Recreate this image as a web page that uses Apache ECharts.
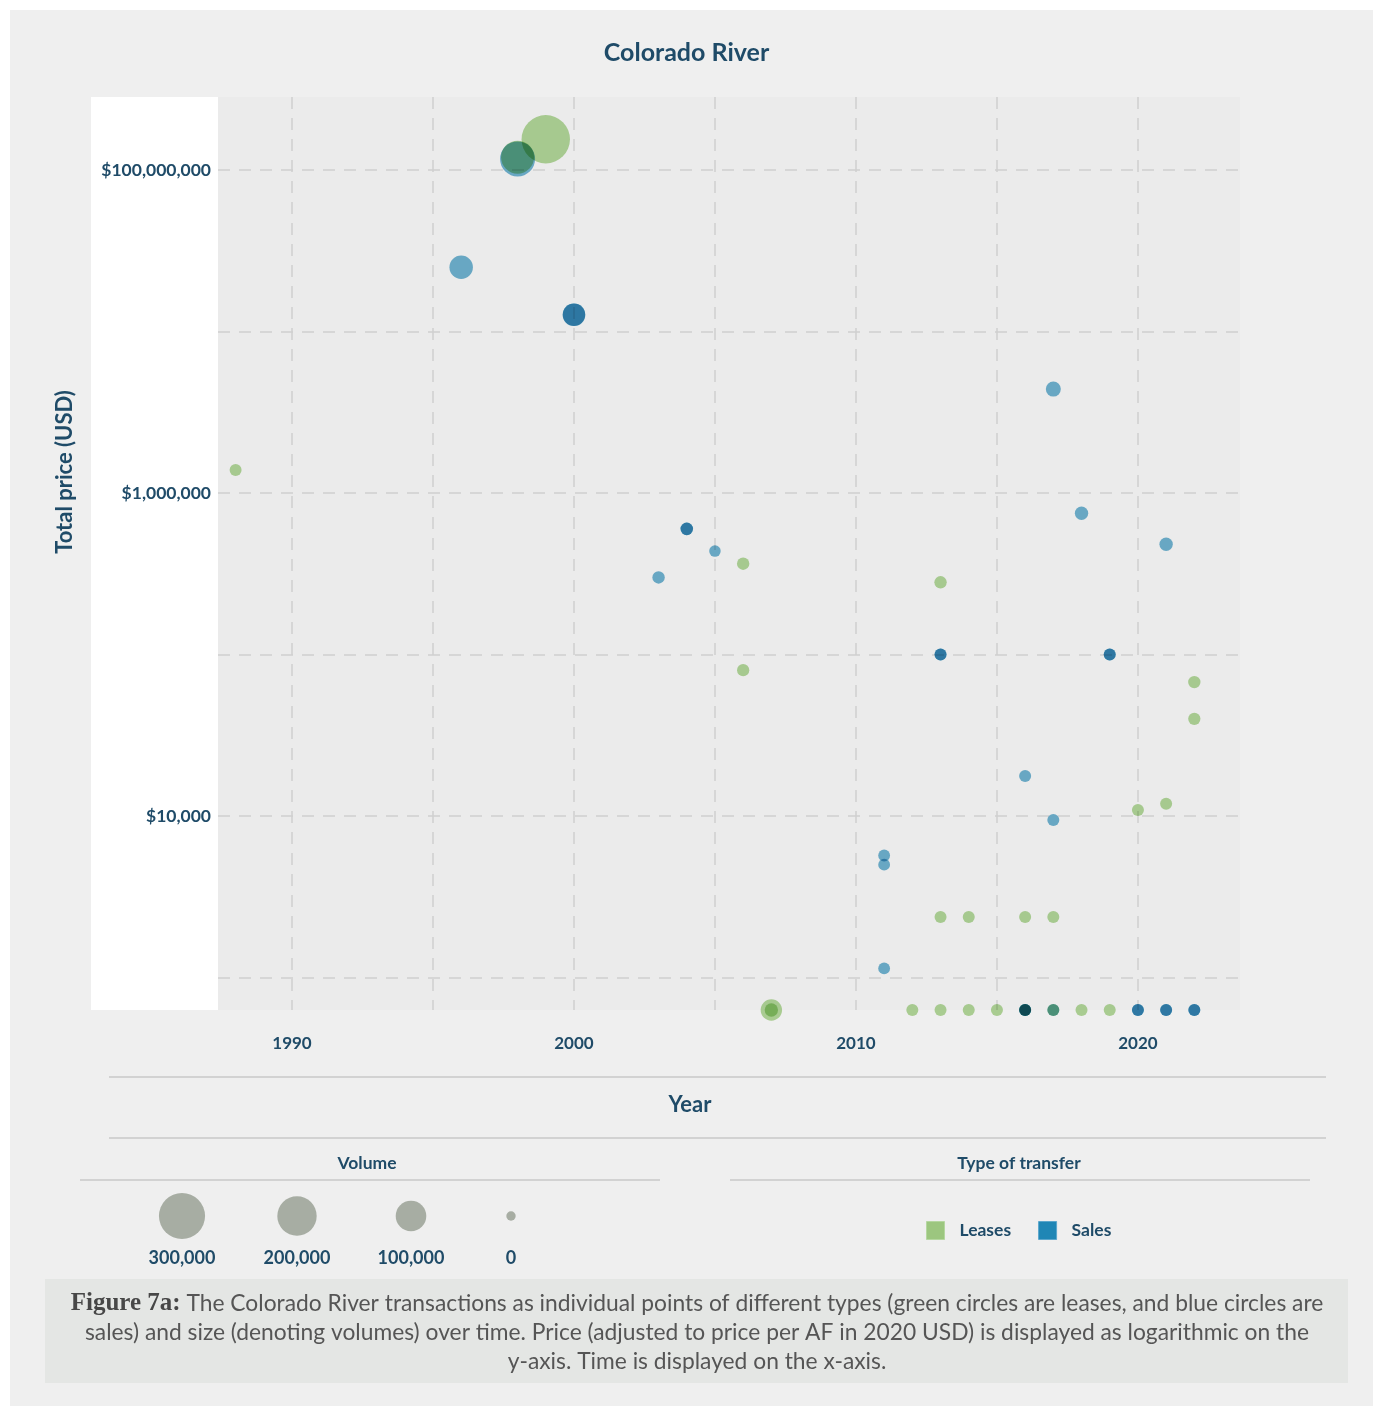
<!DOCTYPE html>
<html>
<head>
<meta charset="utf-8">
<title>Colorado River</title>
<script src="https://cdn.jsdelivr.net/npm/echarts@6/dist/echarts.min.js"></script>
<style>
  html, body { margin: 0; padding: 0; background: #ffffff; }
  #chart { width: 1373px; height: 1406px; }
</style>
</head>
<body>
<div id="chart"></div>
<script>
// Lease transactions: year, total price (2020 USD), volume (AF)
const leaseYears   = [1988, 1998, 1999, 2006, 2006, 2007, 2007, 2012, 2013, 2013, 2013, 2014, 2014, 2015, 2016, 2016, 2017, 2017, 2018, 2019, 2020, 2021, 2022, 2022];
const leasePrices  = [1390000, 120000000, 155000000, 365000, 80000, 630, 630, 630, 280000, 2370, 630, 2370, 630, 630, 2370, 630, 2370, 630, 630, 630, 10900, 11900, 67500, 40000];
const leaseVolumes = [1500, 124000, 338000, 2000, 1800, 32000, 3500, 1500, 2000, 1500, 1500, 1500, 1500, 1500, 1500, 1500, 1500, 1500, 1500, 1500, 1500, 1500, 2000, 1800];

// Sale transactions: year, total price (2020 USD), volume (AF)
const saleYears   = [1996, 1998, 2000, 2000, 2003, 2004, 2004, 2005, 2011, 2011, 2011, 2013, 2013, 2016, 2016, 2016, 2016, 2017, 2017, 2017, 2018, 2019, 2019, 2020, 2020, 2021, 2021, 2021, 2022, 2022];
const salePrices  = [25000000, 117000000, 12700000, 12700000, 300000, 600000, 600000, 437000, 5700, 5000, 1140, 100000, 100000, 17700, 630, 630, 630, 4400000, 9440, 630, 750000, 100000, 100000, 630, 630, 630, 630, 482000, 630, 630];
const saleVolumes = [44000, 146000, 39000, 38000, 2000, 2200, 2200, 1000, 1300, 1300, 1300, 1500, 1500, 1500, 1500, 1500, 1500, 7000, 1500, 1500, 3500, 1500, 1500, 1500, 1500, 1500, 1500, 3500, 1500, 1500];

// Axis ticks and labels
const yearTicks   = [1990, 1995, 2000, 2005, 2010, 2015, 2020];
const yearLabels  = [1990, 2000, 2010, 2020];
const priceTicks  = [1e3, 1e4, 1e5, 1e6, 1e7, 1e8];
const priceLabels = [1e4, 1e6, 1e8];

// Volume key shown under the chart
const volumeKeys = [300000, 200000, 100000, 0];

const INK = '#1f4b68';
const FONT = 'Lato';

// Bubble radius in px for a volume in AF
function radius(v) {
  return 4.7 + 10.6 * Math.sqrt(v / 100000);
}

function points(years, prices, volumes) {
  return years.map((y, i) => [y, prices[i], volumes[i]]);
}

const chart = echarts.init(document.getElementById('chart'), null, { renderer: 'canvas' });

const volumeKeyX = [182, 297, 411, 511];
const volumeGraphics = [];
volumeKeys.forEach((v, i) => {
  volumeGraphics.push({
    type: 'circle', silent: true,
    shape: { cx: volumeKeyX[i], cy: 1216, r: radius(v) },
    style: { fill: '#a7ada3' }
  });
  volumeGraphics.push({
    type: 'text', silent: true, x: volumeKeyX[i], y: 1258,
    style: {
      text: v.toLocaleString('en-US'), align: 'center', verticalAlign: 'middle',
      fontFamily: FONT, fontWeight: 'bold', fontSize: 18, fill: INK
    }
  });
});

const rule = (x1, x2, y) => ({
  type: 'line', silent: true,
  shape: { x1: x1, y1: y, x2: x2, y2: y },
  style: { stroke: '#d2d2d2', lineWidth: 2 }
});

const heading = (text, x, y, size) => ({
  type: 'text', silent: true, x: x, y: y,
  style: {
    text: text, align: 'center', verticalAlign: 'middle',
    fontFamily: FONT, fontWeight: 'bold', fontSize: size, fill: INK
  }
});

const option = {
  backgroundColor: '#efefef',
  animation: false,
  title: {
    text: 'Colorado River',
    left: 'center',
    top: 35,
    textStyle: { fontFamily: FONT, fontWeight: 'bold', fontSize: 25, color: INK }
  },
  grid: {
    left: 218, top: 97, width: 1022, height: 913,
    show: true, backgroundColor: '#ebebeb', borderWidth: 0,
    containLabel: false
  },
  xAxis: {
    type: 'value',
    min: 1987.376,
    max: 2023.62,
    axisLine: { show: false },
    axisTick: { show: false, customValues: yearTicks },
    axisLabel: {
      customValues: yearLabels,
      margin: 25,
      formatter: v => String(Math.round(v)),
      fontFamily: FONT, fontWeight: 'bold', fontSize: 17, color: INK
    },
    splitLine: { show: true, lineStyle: { type: [12, 9], color: '#cfcfcf', width: 1.5 } }
  },
  yAxis: {
    type: 'log',
    logBase: 10,
    min: 630,
    max: 283000000,
    axisLine: { show: false },
    axisTick: { show: false, customValues: priceTicks },
    axisLabel: {
      customValues: priceLabels,
      margin: 7,
      formatter: v => '$' + Math.round(v).toLocaleString('en-US'),
      fontFamily: FONT, fontWeight: 'bold', fontSize: 17.5, color: INK
    },
    splitLine: { show: true, lineStyle: { type: [12, 9], color: '#cfcfcf', width: 1.5 } }
  },
  legend: {
    left: 926,
    top: 1221,
    padding: 0,
    itemWidth: 18,
    itemHeight: 18,
    itemGap: 27,
    icon: 'rect',
    selectedMode: false,
    textStyle: {
      fontFamily: FONT, fontWeight: 'bold', fontSize: 17.5, color: INK,
      padding: [0, 0, 0, 10]
    },
    data: [
      { name: 'Leases', itemStyle: { color: '#9cc67f', borderColor: '#b5d7a0', borderWidth: 1 } },
      { name: 'Sales', itemStyle: { color: '#1f86b5', borderColor: '#5ba6cc', borderWidth: 1 } }
    ]
  },
  series: [
    {
      name: 'Sales',
      type: 'scatter',
      data: points(saleYears, salePrices, saleVolumes),
      symbolSize: d => 2 * radius(d[2]),
      itemStyle: { color: '#71b5d4', opacity: 1 },
      blendMode: 'multiply',
      clip: false,
      silent: true
    },
    {
      name: 'Leases',
      type: 'scatter',
      data: points(leaseYears, leasePrices, leaseVolumes),
      symbolSize: d => 2 * radius(d[2]),
      itemStyle: { color: '#b4da9b', opacity: 1 },
      blendMode: 'multiply',
      clip: false,
      silent: true
    }
  ],
  graphic: [
    // white page margin and label gutter
    { type: 'rect', silent: true, shape: { x: 0, y: 0, width: 10, height: 1406 }, style: { fill: '#ffffff' } },
    { type: 'rect', silent: true, shape: { x: 0, y: 0, width: 1373, height: 10 }, style: { fill: '#ffffff' } },
    { type: 'rect', silent: true, shape: { x: 91, y: 97, width: 127, height: 913 }, style: { fill: '#ffffff' } },
    {
      type: 'text', silent: true, x: 65, y: 472, rotation: Math.PI / 2,
      style: {
        text: 'Total price (USD)', align: 'center', verticalAlign: 'middle',
        fontFamily: FONT, fontWeight: 'bold', fontSize: 22, fill: INK
      }
    },
    rule(109, 1326, 1077),
    heading('Year', 690, 1105, 22),
    rule(109, 1326, 1138),
    heading('Volume', 367, 1163, 17.5),
    heading('Type of transfer', 1019, 1163, 17.5),
    rule(80, 660, 1180),
    rule(730, 1310, 1180),
    ...volumeGraphics,
    // caption
    { type: 'rect', silent: true, shape: { x: 45, y: 1279, width: 1303, height: 104 }, style: { fill: '#e4e6e4' } },
    {
      type: 'text', silent: true, x: 697, y: 1333,
      style: {
        text: '{b|Figure 7a:} The Colorado River transactions as individual points of different types (green circles are leases, and blue circles are\n' +
              'sales) and size (denoting volumes) over time. Price (adjusted to price per AF in 2020 USD) is displayed as logarithmic on the\n' +
              'y-axis. Time is displayed on the x-axis.',
        align: 'center', verticalAlign: 'middle',
        fontFamily: FONT, fontSize: 22.8, fill: '#555555', lineHeight: 29,
        rich: {
          b: { fontFamily: 'Liberation Serif', fontWeight: 'bold', fontSize: 25, fill: '#474747', lineHeight: 29 }
        }
      }
    }
  ]
};

chart.setOption(option);
</script>
</body>
</html>
